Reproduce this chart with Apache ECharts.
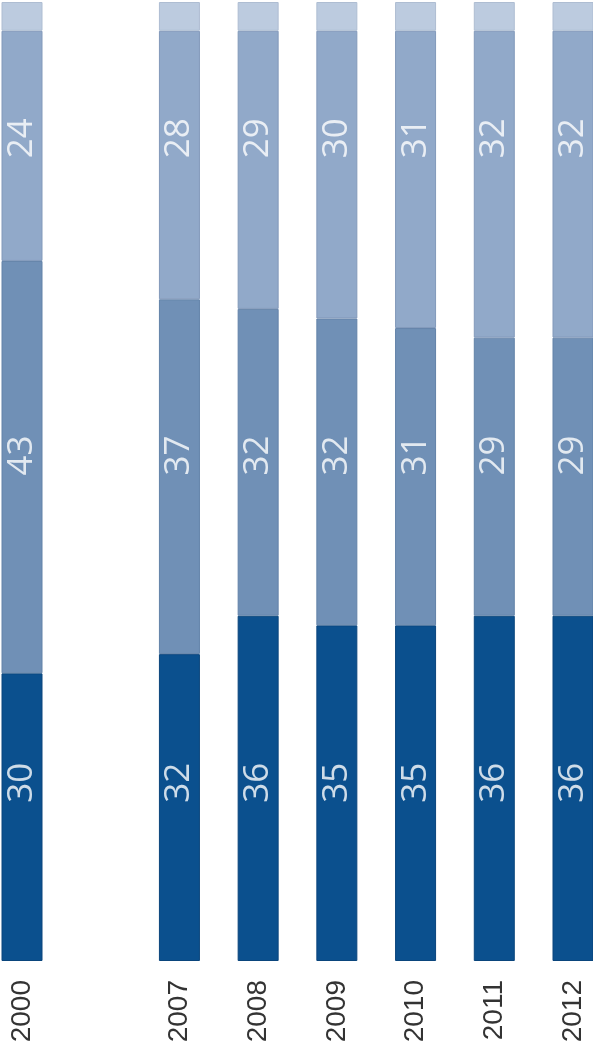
<!DOCTYPE html>
<html>
<head>
<meta charset="utf-8">
<script src="https://cdn.jsdelivr.net/npm/echarts@6/dist/echarts.min.js"></script>
<style>
  html, body { margin: 0; padding: 0; background: #fff; }
  #chart { width: 593px; height: 1054px; }
</style>
</head>
<body>
<div id="chart"></div>
<script>
// data (shares in %)
var years = ['2000', '', '2007', '2008', '2009', '2010', '2011', '2012'];
var bottomVals = [30, null, 32, 36, 35, 35, 36, 36];
var middleVals = [43, null, 37, 32, 32, 31, 29, 29];
var upperVals = [24, null, 28, 29, 30, 31, 32, 32];
var topVals = [3, null, 3, 3, 3, 3, 3, 3];

// labels sit at fixed heights, not at segment centres
var labelRows = [
    { vals: bottomVals, at: 18.6 },
    { vals: middleVals, at: 52.7 },
    { vals: upperVals, at: 85.8 }
];

var chart = echarts.init(document.getElementById('chart'));

function barSeries(name, vals, color, border) {
    return {
        name: name,
        type: 'bar',
        stack: 'all',
        barWidth: 41,
        data: vals,
        itemStyle: { color: color, borderColor: border, borderWidth: 1 },
        emphasis: { disabled: true }
    };
}

var series = [
    barSeries('s1', bottomVals, '#0b508e', '#0a457c'),
    barSeries('s2', middleVals, '#7090b6', '#6282a8'),
    barSeries('s3', upperVals, '#91a9c9', '#8299ba'),
    barSeries('s4', topVals, '#bccbdf', '#aebdd2')
];

labelRows.forEach(function (row) {
    var pts = [];
    row.vals.forEach(function (v, i) {
        if (v != null) pts.push({ value: [i, row.at], txt: v });
    });
    series.push({
        type: 'scatter',
        symbolSize: 0,
        silent: true,
        z: 5,
        data: pts,
        label: {
            show: true,
            position: 'inside',
            rotate: 90,
            color: '#ffffff',
            fontFamily: '"Open Sans", "Noto Sans", sans-serif',
            fontSize: 35,
            formatter: function (p) { return String(p.data.txt); }
        }
    });
});

var option = {
    animation: false,
    grid: { left: 22, right: 20, top: 2, bottom: 93 },
    xAxis: {
        type: 'category',
        data: years,
        boundaryGap: false,
        axisLine: { show: false },
        axisTick: { show: false },
        axisLabel: {
            rotate: 90,
            margin: 19,
            interval: 0,
            color: '#333333',
            fontFamily: '"Liberation Sans", Arial, sans-serif',
            fontSize: 28
        }
    },
    yAxis: {
        type: 'value',
        min: 0,
        max: 100,
        show: false,
        splitLine: { show: false }
    },
    series: series
};

chart.setOption(option);
</script>
</body>
</html>
